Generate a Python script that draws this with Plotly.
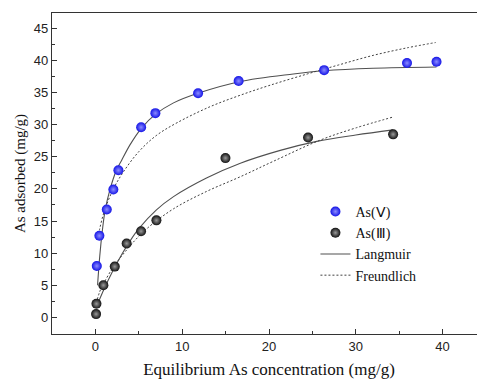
import plotly.graph_objects as go

# --- experimental data ---
c_v = [0.16, 0.46, 1.31, 2.07, 2.65, 5.27, 6.91, 11.83, 16.5, 26.35, 35.9, 39.3]
q_v = [8.0, 12.7, 16.8, 19.9, 22.9, 29.6, 31.8, 34.9, 36.8, 38.5, 39.6, 39.8]

c_iii = [0.08, 0.12, 0.92, 2.23, 3.6, 5.26, 7.03, 14.98, 24.5, 34.3]
q_iii = [0.5, 2.1, 5.0, 7.9, 11.5, 13.4, 15.1, 24.8, 28.0, 28.5]

# --- fitted curves ---
lang_v_c = [0.25, 0.5, 0.8, 1.1, 1.66, 2.42, 3.0, 4.0, 5.27, 6.9, 9.0, 11.8, 16.6, 22.8, 26.3, 32.0, 39.3]
lang_v_q = [5.0, 9.5, 13.5, 16.5, 19.8, 22.9, 24.4, 26.9, 29.4, 31.6, 33.4, 34.9, 36.7, 37.9, 38.4, 38.8, 39.0]

freu_v_c = [0.3, 0.5, 1.0, 2.0, 3.2, 5.0, 7.0, 9.4, 13.2, 16.7, 20.0, 24.4, 28.0, 32.0, 36.0, 39.2]
freu_v_q = [12.3, 13.8, 16.4, 19.8, 22.6, 25.8, 28.3, 30.3, 32.8, 34.6, 36.1, 37.9, 39.3, 40.8, 42.0, 42.8]

lang_iii_c = [0.3, 1.0, 2.0, 3.0, 4.0, 5.0, 7.0, 9.0, 12.8, 16.7, 21.3, 25.5, 30.0, 34.3]
lang_iii_q = [2.2, 4.4, 7.2, 9.7, 11.9, 13.8, 16.7, 18.8, 21.7, 24.0, 26.0, 27.4, 28.4, 29.2]

freu_iii_c = [0.1, 0.5, 1.0, 2.0, 3.0, 4.5, 6.0, 9.0, 12.8, 16.7, 20.5, 25.9, 30.0, 34.3]
freu_iii_q = [2.2, 4.0, 5.4, 7.7, 9.5, 11.9, 13.9, 16.9, 19.6, 21.9, 24.3, 27.6, 29.5, 31.2]

x_ticks = [0, 10, 20, 30, 40]
y_ticks = [0, 5, 10, 15, 20, 25, 30, 35, 40, 45]

serif = "Liberation Serif, Times New Roman, serif"
sans = "Liberation Sans, Arial, sans-serif"

fig = go.Figure()

solid = dict(color="#505050", width=1.1, shape="spline")
dashed = dict(color="#404040", width=1, dash="2px,2px", shape="spline")

fig.add_trace(go.Scatter(x=lang_v_c, y=lang_v_q, mode="lines", line=solid,
                         name="Langmuir", showlegend=False, legendrank=3))
fig.add_trace(go.Scatter(x=freu_v_c, y=freu_v_q, mode="lines", line=dashed,
                         name="Freundlich", showlegend=False, legendrank=4))
fig.add_trace(go.Scatter(x=lang_iii_c, y=lang_iii_q, mode="lines", line=solid,
                         name="Langmuir", showlegend=True, legendrank=3))
fig.add_trace(go.Scatter(x=freu_iii_c, y=freu_iii_q, mode="lines", line=dashed,
                         name="Freundlich", showlegend=True, legendrank=4))

fig.add_trace(go.Scatter(x=c_v, y=q_v, mode="markers", name="As(Ⅴ)", legendrank=1,
                         marker=dict(size=10, color="#1414e6",
                                     gradient=dict(type="radial", color="#8c8cff"),
                                     line=dict(width=0))))
fig.add_trace(go.Scatter(x=c_iii, y=q_iii, mode="markers", name="As(Ⅲ)", legendrank=2,
                         marker=dict(size=10, color="#111111",
                                     gradient=dict(type="radial", color="#9a9a9a"),
                                     line=dict(width=0))))

fig.update_layout(
    width=486, height=382,
    margin=dict(l=52, r=0, t=13, b=48, autoexpand=False),
    paper_bgcolor="white", plot_bgcolor="white",
    showlegend=True,
    legend=dict(x=0.607, y=0.43, xanchor="left", yanchor="top",
                bgcolor="rgba(0,0,0,0)", font=dict(family=serif, size=14, color="#111"),
                tracegroupgap=0, itemwidth=30, traceorder="normal"),
    xaxis=dict(range=[-5, 45], tickvals=x_ticks, ticks="inside", ticklen=5,
               tickcolor="#333", showline=True, linecolor="#333", linewidth=1.2,
               mirror=True, showgrid=False, zeroline=False, automargin=False,
               minor=dict(dtick=5, ticks="inside", ticklen=3, tickcolor="#333"),
               tickfont=dict(family=sans, size=13, color="#222"),
               title=dict(text="Equilibrium As concentration (mg/g)",
                          font=dict(family=serif, size=17, color="#111"), standoff=10)),
    yaxis=dict(range=[-2.6, 47.4], tickvals=y_ticks, ticks="inside", ticklen=5,
               tickcolor="#333", showline=True, linecolor="#333", linewidth=1.2,
               mirror=True, showgrid=False, zeroline=False, automargin=False,
               minor=dict(dtick=2.5, ticks="inside", ticklen=3, tickcolor="#333"),
               tickfont=dict(family=sans, size=13, color="#222"),
               title=dict(text="As adsorbed (mg/g)",
                          font=dict(family=serif, size=15, color="#111"), standoff=4)),
)

fig.write_html(
    "out.html",
    config={"displayModeBar": False},
    post_script="document.body.style.margin='0';document.body.style.overflow='hidden';",
)
